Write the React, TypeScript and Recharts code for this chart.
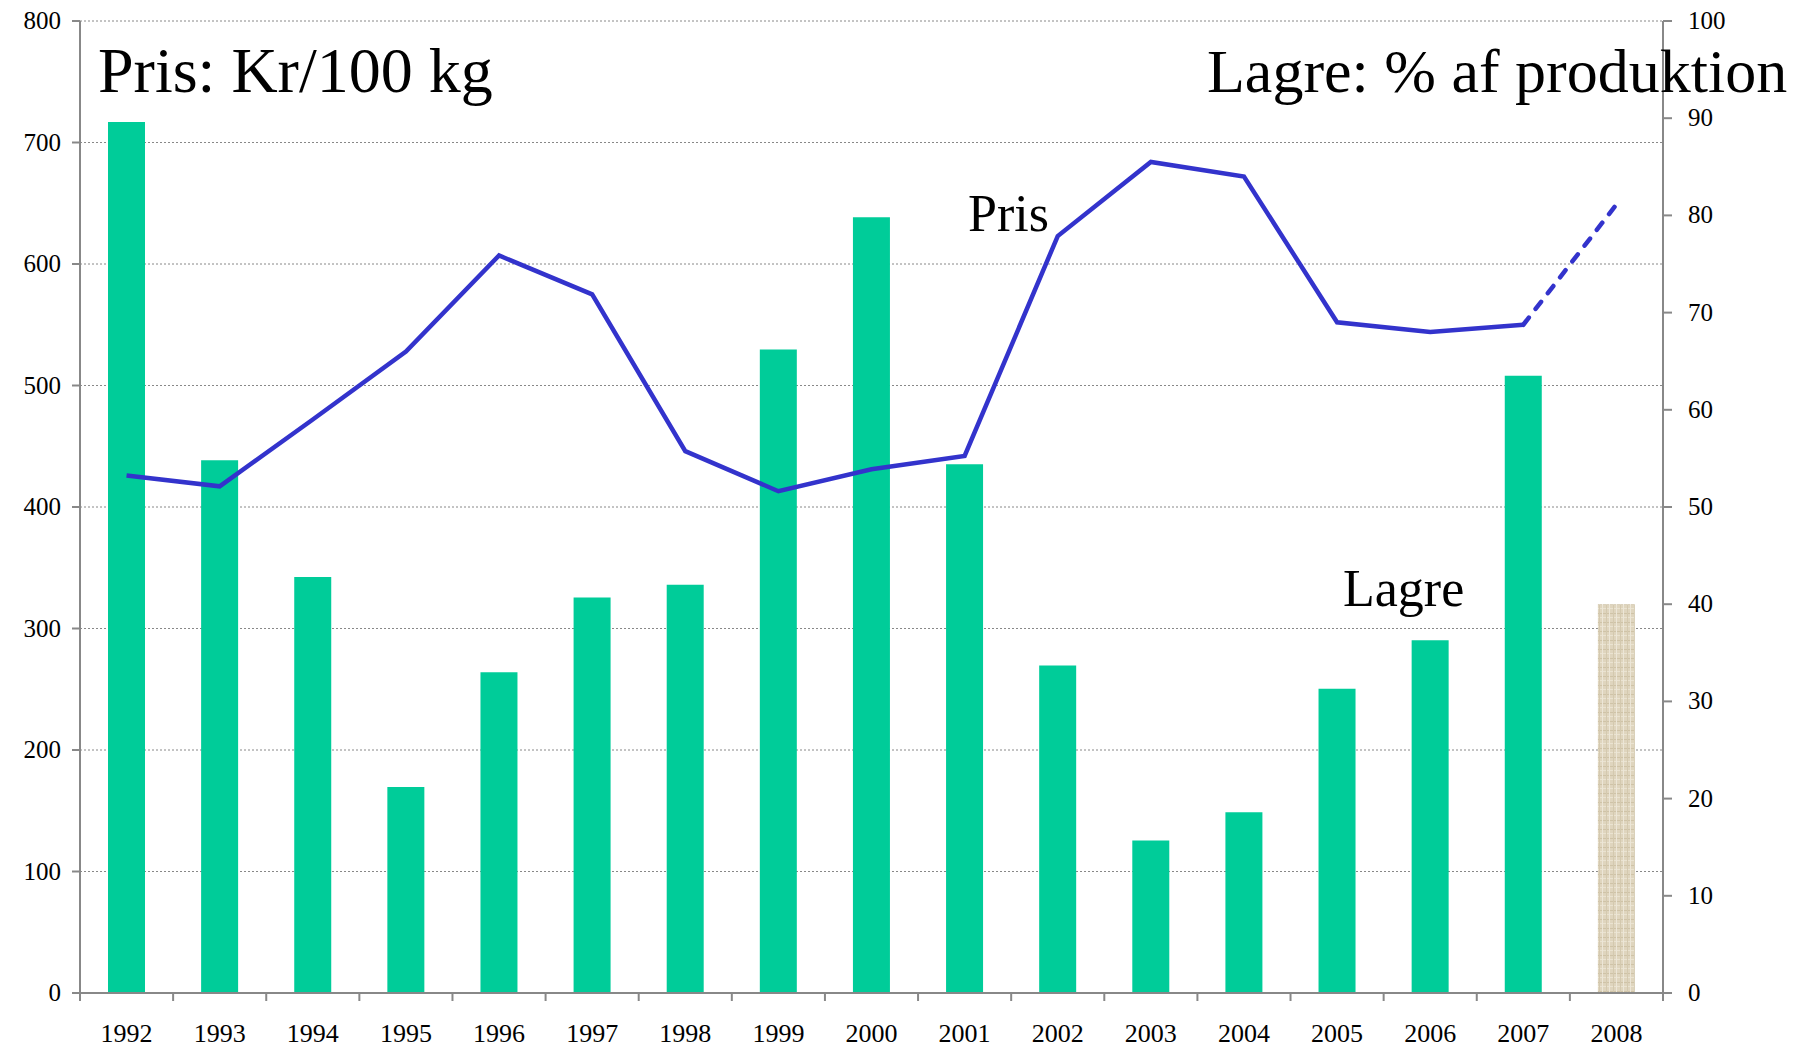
import { ComposedChart, Bar, Line, Cell, XAxis, YAxis, CartesianGrid } from "recharts"

// år
const years = ["1992", "1993", "1994", "1995", "1996", "1997", "1998", "1999", "2000", "2001", "2002", "2003", "2004", "2005", "2006", "2007", "2008"]

// Lagre: % af produktion (højre akse)
const lagre = [89.6, 54.8, 42.8, 21.2, 33.0, 40.7, 42.0, 66.2, 79.8, 54.4, 33.7, 15.7, 18.6, 31.3, 36.3, 63.5, 40.0]

// Pris: Kr/100 kg (venstre akse)
const pris = [426, 417, 472, 528, 607, 575, 446, 413, 431, 442, 623, 684, 672, 552, 544, 550, 649]

// sidste år er et skøn (stiplet linje, mønstret søjle)
const forecastFrom = 15

const leftTicks = [0, 100, 200, 300, 400, 500, 600, 700, 800]
const rightTicks = [0, 10, 20, 30, 40, 50, 60, 70, 80, 90, 100]

const FONT = "'Liberation Serif', 'Times New Roman', serif"
const CHART_W = 1788
const CHART_H = 1039
const LEFT_W = 72
const RIGHT_W = 133
const BAND = (CHART_W - LEFT_W - RIGHT_W) / years.length

const data = years.map((year, i) => ({
  year,
  lagre: lagre[i],
  pris: i <= forecastFrom ? pris[i] : null,
  prisSkoen: i >= forecastFrom ? pris[i] : null,
}))

function YearTick(props: any) {
  const { x, y, payload, index } = props
  return (
    <g>
      <line x1={x - BAND / 2} x2={x - BAND / 2} y1={y} y2={y + 8} stroke="#888" strokeWidth={2} />
      {index === years.length - 1 && (
        <line x1={x + BAND / 2} x2={x + BAND / 2} y1={y} y2={y + 8} stroke="#888" strokeWidth={2} />
      )}
      <text x={x} y={y + 49} textAnchor="middle" style={{ fontSize: 26, fontFamily: FONT }} fill="#000">
        {payload.value}
      </text>
    </g>
  )
}

function LeftTick(props: any) {
  const { x, y, payload } = props
  return (
    <text x={x} y={y + 8} textAnchor="end" style={{ fontSize: 25, fontFamily: FONT }} fill="#000">
      {payload.value}
    </text>
  )
}

function RightTick(props: any) {
  const { x, y, payload } = props
  return (
    <text x={x} y={y + 8} textAnchor="start" style={{ fontSize: 25, fontFamily: FONT }} fill="#000">
      {payload.value}
    </text>
  )
}

const label = { fontFamily: FONT, fill: "#000" }

export default function App() {
  return (
    <div style={{ position: "relative", width: 1804, height: 1047, overflow: "hidden", fontFamily: FONT }}>
      <style>{`body { margin: 0; }`}</style>
      <svg width={0} height={0} style={{ position: "absolute" }}>
        <defs>
          <pattern id="linen" width={7} height={9} patternUnits="userSpaceOnUse">
            <rect width={7} height={9} fill="#DFD5BE" />
            <rect x={0} y={2} width={7} height={1} fill="#CFC3A7" />
            <rect x={0} y={6} width={7} height={1} fill="#EAE3D1" />
            <rect x={2} y={0} width={1} height={9} fill="#D4C9AF" />
            <rect x={5} y={0} width={1} height={9} fill="#ECE6D7" />
          </pattern>
        </defs>
      </svg>
      <div style={{ position: "absolute", left: 8, top: 8 }}>
        <ComposedChart
          width={CHART_W}
          height={CHART_H}
          data={data}
          margin={{ top: 13, right: 0, bottom: 0, left: 0 }}
          barCategoryGap="30%"
        >
          <CartesianGrid yAxisId="left" vertical={false} stroke="#888" strokeDasharray="2 2" />
          <XAxis
            dataKey="year"
            height={54}
            interval={0}
            tickSize={0}
            tickMargin={0}
            tickLine={false}
            axisLine={{ stroke: "#888", strokeWidth: 2 }}
            tick={<YearTick />}
          />
          <YAxis
            yAxisId="left"
            width={LEFT_W}
            domain={[0, 800]}
            ticks={leftTicks}
            interval={0}
            tickSize={8}
            tickMargin={11}
            axisLine={{ stroke: "#888", strokeWidth: 2 }}
            tickLine={{ stroke: "#888", strokeWidth: 2 }}
            tick={<LeftTick />}
          />
          <YAxis
            yAxisId="right"
            orientation="right"
            width={RIGHT_W}
            domain={[0, 100]}
            ticks={rightTicks}
            interval={0}
            tickSize={9}
            tickMargin={16}
            axisLine={{ stroke: "#888", strokeWidth: 2 }}
            tickLine={{ stroke: "#888", strokeWidth: 2 }}
            tick={<RightTick />}
          />
          <Bar yAxisId="right" dataKey="lagre" barSize={37} isAnimationActive={false}>
            {data.map((d, i) => (
              <Cell key={d.year} fill={i > forecastFrom ? "url(#linen)" : "#00CC99"} />
            ))}
          </Bar>
          <Line
            yAxisId="left"
            dataKey="pris"
            stroke="#3333CC"
            strokeWidth={4.5}
            dot={false}
            activeDot={false}
            isAnimationActive={false}
          />
          <Line
            yAxisId="left"
            dataKey="prisSkoen"
            stroke="#3333CC"
            strokeWidth={4.5}
            strokeDasharray="9 11"
            strokeLinecap="round"
            dot={false}
            activeDot={false}
            isAnimationActive={false}
          />
        </ComposedChart>
        <svg
          width={CHART_W}
          height={CHART_H}
          style={{ position: "absolute", left: 0, top: 0, pointerEvents: "none" }}
        >
          <text x={90} y={84} style={{ ...label, fontSize: 64 }}>Pris: Kr/100 kg</text>
          <text x={1199} y={84} style={{ ...label, fontSize: 62 }}>Lagre: % af produktion</text>
          <text x={960} y={223} style={{ ...label, fontSize: 52 }}>Pris</text>
          <text x={1335} y={598} style={{ ...label, fontSize: 52 }}>Lagre</text>
        </svg>
      </div>
    </div>
  )
}
